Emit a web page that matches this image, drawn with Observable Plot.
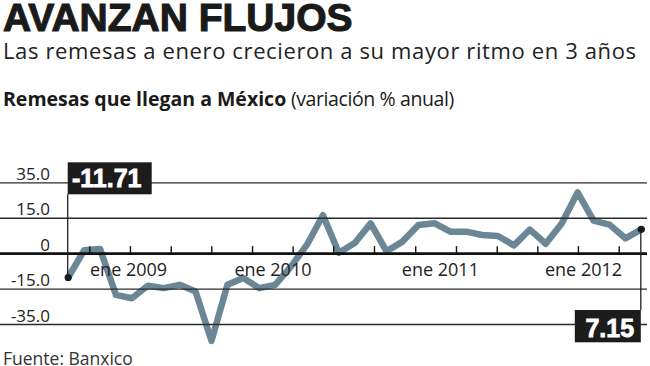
<!DOCTYPE html>
<html><head><meta charset="utf-8">
<script src="https://cdn.jsdelivr.net/npm/d3@7"></script>
<script src="https://cdn.jsdelivr.net/npm/@observablehq/plot@0.6"></script>
<style>
body{margin:0;background:#fff;width:650px;height:366px;position:relative;overflow:hidden;font-family:"Open Sans",sans-serif;color:#222}
.t{position:absolute;left:3px;white-space:nowrap}
#title{top:1.2px;font-weight:bold;font-size:39px;line-height:34px;font-family:"Liberation Sans",sans-serif;letter-spacing:0px;-webkit-text-stroke:1.1px #1a1a1a;color:#1a1a1a}
#sub{top:40px;font-size:22px;line-height:20px;letter-spacing:0.62px;color:#222}
#head{top:89.4px;font-size:19.5px;line-height:19.5px;color:#1a1a1a}
#head b{font-weight:700}
#head span{letter-spacing:-0.4px}
#src{top:351px;font-size:17.5px;line-height:14px;color:#333}
#chart{position:absolute;left:0;top:150px}
</style></head><body>
<div class="t" id="title">AVANZAN FLUJOS</div>
<div class="t" id="sub">Las remesas a enero crecieron a su mayor ritmo en 3 años</div>
<div class="t" id="head"><b>Remesas que llegan a México</b><span> (variación % anual)</span></div>
<div id="chart"></div>
<div class="t" id="src">Fuente: Banxico</div>
<script>
// Monthly series, ene 2009 – ene 2012 (variación % anual)
const months = d3.utcMonth.range(new Date(Date.UTC(2009, 0, 1)), new Date(Date.UTC(2012, 1, 1)));
const values = [-10.1, 1.4, 2.0, -18.3, -20.2, -13.6, -14.6, -13.2, -16.4, -44.2,
  -13.2, -10.3, -14.6, -13.2, -5.4, 3.8, 16.7, 0.4, 4.5, 12.8,
  1.0, 5.1, 12.1, 12.9, 9.3, 9.3, 7.9, 7.5, 3.5, 10.2,
  4.2, 12.8, 29.6, 14.0, 12.3, 6.5, 10.3];
const yTicks = [-35, -15, 0, 15, 35];
const yTickLabels = ["-35.0", "-15.0", "0", "15.0", "35.0"];
const xTicks = [1.36, 3.91, 6.47, 9.02, 11.58, 14.13, 16.68, 19.24, 21.83, 24.39, 26.95, 29.5, 32.05, 34.61];
const xLabelPos = [3.79, 12.86, 23.38, 32.37];
const xLabels = ["ene 2009", "ene 2010", "ene 2011", "ene 2012"];
const calloutIndex = [0, 36];
const calloutLabels = ["-11.71", "7.15"];

const data = values.map((v, i) => ({i, date: months[i], v}));

// the original axis spaces its (unevenly valued) gridlines evenly: piecewise-linear y
const gridStep = d3.scaleLinear().domain(yTicks).range(yTicks.map((d, k) => k - 2));

// box styling per callout (pixel offsets relative to the scales)
const boxStyle = [
  {anchorY: 35, dyTop: -20, w: 84, h: 32, align: "left", tx: 39, ty: 24.6},
  {anchorY: -35, dyTop: -14, w: 66, h: 32.3, align: "right", tx: -31, ty: 26.5}
];

function callouts(index, scales) {
  const g = d3.create("svg:g");
  calloutIndex.forEach((ci, k) => {
    const s = boxStyle[k];
    const px = scales.x(ci), py = scales.y(gridStep(values[ci]));
    const top = scales.y(gridStep(s.anchorY)) + s.dyTop;
    const left = s.align === "left" ? px : px - s.w;
    const lineEnd = top < py ? top + s.h : top;
    g.append("line").attr("x1", px).attr("x2", px).attr("y1", py).attr("y2", lineEnd)
      .attr("stroke", "#222").attr("stroke-width", 1.3);
    g.append("rect").attr("x", left).attr("y", top).attr("width", s.w).attr("height", s.h).attr("fill", "#1c1c1c");
    g.append("text").attr("x", px + s.tx).attr("y", top + s.ty).attr("text-anchor", "middle")
      .attr("fill", "#fff").attr("stroke", "#fff").attr("stroke-width", 0.8)
      .attr("font-family", "Liberation Sans, sans-serif").attr("font-weight", "bold").attr("font-size", 25)
      .text(calloutLabels[k]);
  });
  return g.node();
}

const chart = Plot.plot({
  width: 650,
  height: 196,
  marginLeft: 0,
  marginRight: 3,
  marginTop: 0,
  marginBottom: 0,
  x: {domain: [0, 36], range: [67.7, 640.8], axis: null},
  y: {transform: gridStep, domain: [-2, 2], range: [174, 32.3], axis: null},
  style: {background: "transparent", overflow: "visible"},
  marks: [
    Plot.line(data, {x: "i", y: "v", stroke: "#6b8795", strokeWidth: 6.5, strokeLinejoin: "round"}),
    Plot.ruleY(yTicks.filter(d => d !== 0), {stroke: "#2a2a2a", strokeWidth: 1.3}),
    Plot.ruleY([0], {stroke: "#111", strokeWidth: 2.6}),
    Plot.ruleX(xTicks, {y1: 0, y2: 0, insetBottom: 7, stroke: "#111", strokeWidth: 1.4}),
    Plot.text(yTicks, {y: d => d, text: (d, i) => yTickLabels[i], frameAnchor: "left", dx: 49.5, textAnchor: "end", lineAnchor: "bottom", dy: -3, fontSize: 17, fill: "#222", fontFamily: "Open Sans"}),
    Plot.text(xLabelPos, {x: d => d, y: 0, text: (d, i) => xLabels[i], dy: 22, lineAnchor: "bottom", fontSize: 18, fill: "#222", fontFamily: "Open Sans"}),
    callouts,
    Plot.dot(calloutIndex.map(i => data[i]), {x: "i", y: "v", r: 3.6, fill: "#1a1a1a", stroke: "none"})
  ]
});
document.getElementById("chart").appendChild(chart);
</script>
</body></html>
